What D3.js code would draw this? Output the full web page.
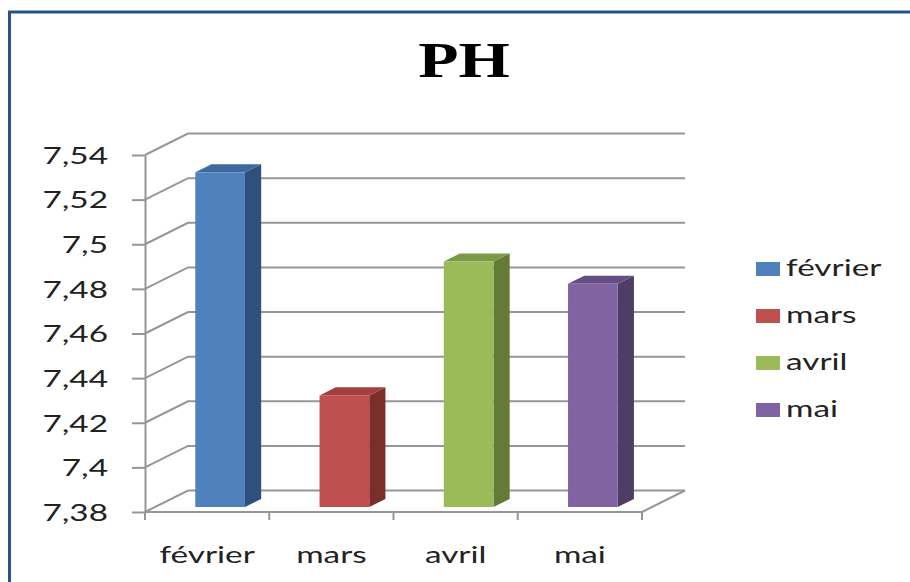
<!DOCTYPE html>
<html>
<head>
<meta charset="utf-8">
<script src="https://cdn.jsdelivr.net/npm/d3@7"></script>
<style>
  body { margin: 0; background: #fff; }
  svg { display: block; }
</style>
</head>
<body>
<svg id="chart" width="910" height="582"></svg>
<script>
const categories = ["février", "mars", "avril", "mai"];
const values = [7.53, 7.43, 7.49, 7.48];
const yTicks = [7.38, 7.40, 7.42, 7.44, 7.46, 7.48, 7.50, 7.52, 7.54];
const chartTitle = "PH";

// front / side / top shades per month
const palette = [
    { front: "#4F81BD", side: "#2F507A", top: "#3F6AA0" },
    { front: "#C0504D", side: "#7B2F2D", top: "#A3403D" },
    { front: "#9BBB59", side: "#657A37", top: "#7C9A45" },
    { front: "#8064A2", side: "#4F3D66", top: "#654E85" }
];

const svg = d3.select("#chart");
const area = { left: 145, right: 642, top: 155, bottom: 512 };
const DX = 43, DY = -21.5;           // full depth offset of the 3D box
const gridColor = "#969696";
const font = "Lato, 'Open Sans', sans-serif";
const stretch = 1.45;                 // the source text is horizontally stretched

// frame
svg.append("path")
    .attr("d", "M9.5,582 V12 H910")
    .attr("fill", "none")
    .attr("stroke", "#24528F")
    .attr("stroke-width", 3);

// title
svg.append("text")
    .attr("transform", "translate(464,77) scale(1.32,1)")
    .attr("text-anchor", "middle")
    .style("font-family", "'Liberation Serif', 'Times New Roman', serif")
    .style("font-weight", "bold")
    .style("font-size", "50px")
    .text(chartTitle);

const scaleX = d3.scaleBand()
    .domain(categories)
    .range([area.left, area.right]);

const scaleY = d3.scaleLinear()
    .domain([yTicks[0], yTicks[yTicks.length - 1]])
    .range([area.bottom, area.top]);

// gridlines: left wall diagonal + back wall
const grid = svg.append("g");
yTicks.forEach(t => {
    const y = scaleY(t);
    grid.append("path")
        .attr("d", `M${area.left},${y} L${area.left + DX},${y + DY} L${area.right + DX},${y + DY}`)
        .attr("fill", "none")
        .attr("stroke", gridColor)
        .attr("stroke-width", 2);
});

// floor right edge
grid.append("path")
    .attr("d", `M${area.right},${area.bottom} L${area.right + DX},${area.bottom + DY}`)
    .attr("stroke", gridColor)
    .attr("stroke-width", 2);

// bars
const f0 = 0.233, f1 = 0.61;
const bw = scaleX.bandwidth();
const bars = svg.append("g");

categories.forEach((c, i) => {
    const col = palette[i];
    const x0 = scaleX(c) + bw * 0.324 + f0 * DX;
    const x1 = x0 + bw * 0.4;
    const yTop = scaleY(values[i]) + f0 * DY;
    const yBot = area.bottom + f0 * DY;
    const ddx = (f1 - f0) * DX, ddy = (f1 - f0) * DY;

    bars.append("path")
        .attr("d", `M${x1},${yTop} L${x1 + ddx},${yTop + ddy} L${x1 + ddx},${yBot + ddy} L${x1},${yBot} Z`)
        .attr("fill", col.side);

    bars.append("path")
        .attr("d", `M${x0},${yTop} L${x0 + ddx},${yTop + ddy} L${x1 + ddx},${yTop + ddy} L${x1},${yTop} Z`)
        .attr("fill", col.top);

    bars.append("rect")
        .attr("x", x0)
        .attr("y", yTop)
        .attr("width", x1 - x0)
        .attr("height", yBot - yTop)
        .attr("fill", col.front);
});

// y axis
const axisY = svg.append("g")
    .attr("transform", `translate(${area.left},0)`)
    .call(d3.axisLeft(scaleY).tickValues(yTicks).tickSize(13).tickSizeOuter(0)
        .tickFormat(d => String(+d.toFixed(2)).replace(".", ",")));

axisY.select(".domain").attr("stroke", gridColor).attr("stroke-width", 2);
axisY.selectAll(".tick line").attr("stroke", gridColor).attr("stroke-width", 2);
axisY.selectAll(".tick text")
    .attr("x", null)
    .attr("dy", "0.36em")
    .attr("transform", `translate(-37,0) scale(${stretch},1)`)
    .attr("fill", "#222")
    .style("font-family", font)
    .style("font-size", "23px");

// x axis
const axisX = svg.append("g")
    .attr("transform", `translate(0,${area.bottom})`);

axisX.append("line")
    .attr("x1", area.left).attr("x2", area.right)
    .attr("stroke", gridColor).attr("stroke-width", 2);

axisX.selectAll(".xtick")
    .data(categories.map(c => scaleX(c)).concat([area.right]))
    .enter()
    .append("line")
    .attr("class", "xtick")
    .attr("x1", d => d).attr("x2", d => d)
    .attr("y1", 0).attr("y2", 8)
    .attr("stroke", gridColor).attr("stroke-width", 2);

axisX.selectAll(".xlabel")
    .data(categories)
    .enter()
    .append("text")
    .attr("class", "xlabel")
    .attr("transform", d => `translate(${scaleX(d) + bw / 2},51) scale(${stretch},1)`)
    .attr("text-anchor", "middle")
    .attr("fill", "#222")
    .style("font-family", font)
    .style("font-size", "23px")
    .text(d => d);

// legend
const legend = svg.append("g").attr("transform", "translate(756,262)");
categories.forEach((c, i) => {
    const row = legend.append("g").attr("transform", `translate(0,${i * 47})`);
    row.append("rect")
        .attr("width", 24)
        .attr("height", 14)
        .attr("fill", palette[i].front);
    row.append("text")
        .attr("transform", `translate(30,14) scale(${stretch},1)`)
        .attr("fill", "#222")
        .style("font-family", font)
        .style("font-size", "23px")
        .text(c);
});
</script>
</body>
</html>
